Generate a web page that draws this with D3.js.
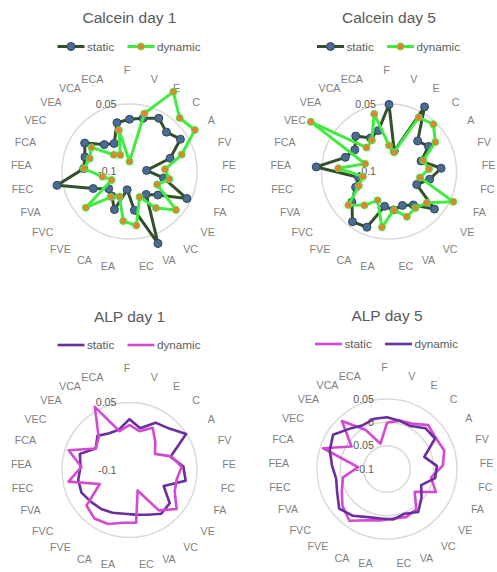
<!DOCTYPE html>
<html>
<head>
<meta charset="utf-8">
<script src="https://cdn.jsdelivr.net/npm/d3@7"></script>
<style>
  body { margin: 0; background: #fff; }
  text { font-family: "Liberation Sans", Arial, sans-serif; }
</style>
</head>
<body>
<svg id="radar" width="497" height="572"></svg>
<script>
// categories (clockwise from top)
var categories = ["F", "V", "E", "C", "A", "FV", "FE", "FC", "FA", "VE", "VC", "VA", "EC",
  "EA", "CA", "FVE", "FVC", "FVA", "FEC", "FEA", "FCA", "VEC", "VEA", "VCA", "ECA"];

var seriesNames = ["static", "dynamic"];

// Calcein day 1
var calcein1Static  = [0.016, 0.022, 0.035, 0.020, 0.034, -0.005, -0.062, -0.023, 0.041, -0.018, -0.037, 0.072, -0.013,
  -0.059, -0.009, -0.033, -0.040, -0.011, 0.064, 0.002, 0.004, 0.018, -0.018, -0.029, 0.012];
var calcein1Dynamic = [-0.078, 0.033, 0.102, 0.063, 0.072, 0.022, -0.021, -0.010, -0.032, 0.034, 0.000, -0.039, 0.021,
  0.011, -0.040, -0.030, 0.026, -0.056, -0.039, 0.002, -0.007, 0.000, -0.049, -0.058, -0.005];

// Calcein day 5
var calcein5Static  = [0.049, -0.053, 0.064, -0.007, 0.004, -0.025, 0.016, -0.008, -0.032, 0.031, -0.008, -0.019, -0.014,
  -0.022, 0.033, 0.038, 0.007, -0.018, -0.031, 0.062, 0.002, -0.010, 0.008, -0.015, -0.006];
var calcein5Dynamic = [-0.042, -0.056, 0.037, 0.044, 0.022, -0.020, -0.011, -0.030, 0.058, 0.009, 0.000, 0.008, -0.014,
  0.025, -0.031, -0.007, 0.017, -0.026, -0.041, 0.013, -0.044, 0.106, -0.027, -0.021, 0.032];

// ALP day 1
var alp1Static  = [0.013, -0.004, 0.020, 0.027, 0.049, -0.004, 0.020, 0.027, -0.016, 0.016, 0.020, 0.007, 0.000,
  -0.002, 0.002, 0.007, 0.011, 0.018, 0.016, 0.009, 0.016, -0.011, 0.004, -0.007, -0.007];
var alp1Dynamic = [0.000, -0.011, 0.007, -0.016, -0.033, -0.002, 0.016, 0.007, 0.011, 0.036, 0.011, -0.051, 0.018,
  0.018, 0.029, 0.033, 0.024, -0.027, 0.038, 0.007, 0.042, -0.011, 0.000, 0.060, -0.011];

// ALP day 5
var alp5Static  = [-0.001, 0.007, 0.011, 0.029, 0.024, 0.029, 0.020, -0.004, 0.016, -0.023, 0.007, 0.011, 0.007,
  0.011, 0.018, 0.037, 0.024, 0.007, -0.004, -0.038, 0.044, -0.010, 0.041, -0.004, -0.044];
var alp5Dynamic = [0.011, 0.007, 0.005, 0.020, 0.022, -0.016, 0.007, 0.005, -0.019, -0.004, 0.014, 0.003, 0.009,
  0.007, 0.011, 0.024, 0.033, 0.018, 0.011, 0.018, 0.029, 0.037, 0.018, 0.007, 0.011];

// radial axis ticks
var ticksCoarse = [-0.1, 0.05];
var ticksFine = [-0.1, -0.05, 0, 0.05];

var svg = d3.select("#radar");

var charts = [
  {title: "Calcein day 1", cx: 129.5, cy: 171.5, r05: 67.5, ticks: ticksCoarse,
    series: [calcein1Static, calcein1Dynamic], colors: ["#34502a", "#3fec3f"], width: 3, markers: true},
  {title: "Calcein day 5", cx: 389, cy: 171.5, r05: 67.5, ticks: ticksCoarse,
    series: [calcein5Static, calcein5Dynamic], colors: ["#34502a", "#3fec3f"], width: 3, markers: true},
  {title: "ALP day 1", cx: 129.5, cy: 470, r05: 67.5, ticks: ticksCoarse,
    series: [alp1Static, alp1Dynamic], colors: ["#6a2d9f", "#d448d4"], width: 2.6, markers: false},
  {title: "ALP day 5", cx: 387, cy: 469, r05: 70, ticks: ticksFine,
    series: [alp5Static, alp5Dynamic], colors: ["#d448d4", "#6a2d9f"], width: 2.6, markers: false}
];

var markerFill = ["#4b6c91", "#e8802f"];
var markerStroke = ["#2f4660", "#3fec3f"];

// angle of each category
var angle = d3.scaleLinear().domain([0, categories.length]).range([0, 2 * Math.PI]);

charts.forEach(function(c) {
  var g = svg.append("g").attr("transform", "translate(" + c.cx + "," + c.cy + ")");

  var rScale = d3.scaleLinear().domain([-0.1, 0.05]).range([0, c.r05]);

  // title
  g.append("text")
    .attr("x", 0)
    .attr("y", -148.5)
    .attr("text-anchor", "middle")
    .attr("font-size", "15.5px")
    .attr("fill", "#595959")
    .text(c.title);

  // legend
  var legX = [-72, -2];
  seriesNames.forEach(function(name, i) {
    var lg = g.append("g").attr("transform", "translate(" + legX[i] + "," + (-125) + ")");
    lg.append("line")
      .attr("x1", 0).attr("x2", 27)
      .attr("stroke", c.colors[i])
      .attr("stroke-width", c.width);
    if (c.markers) {
      lg.append("circle")
        .attr("cx", 13.5).attr("r", i == 0 ? 4 : 3.5)
        .attr("fill", markerFill[i])
        .attr("stroke", markerStroke[i])
        .attr("stroke-width", 1);
    }
    lg.append("text")
      .attr("x", 29.5)
      .attr("dy", "0.35em")
      .attr("font-size", "11.7px")
      .attr("fill", "#595959")
      .text(name);
  });

  // gridline circles
  g.selectAll(".ring")
    .data(c.ticks.filter(function(t) { return t > -0.1; }))
    .enter().append("circle")
    .attr("class", "ring")
    .attr("r", function(t) { return rScale(t); })
    .attr("fill", "none")
    .attr("stroke", "#d9d9d9")
    .attr("stroke-width", 1.5);

  // tick labels
  g.selectAll(".tick")
    .data(c.ticks)
    .enter().append("text")
    .attr("class", "tick")
    .attr("x", -13)
    .attr("y", function(t) { return -rScale(t); })
    .attr("dy", "0.35em")
    .attr("text-anchor", "end")
    .attr("font-size", "10.7px")
    .attr("fill", "#595959")
    .text(function(t) { return String(t); });

  // category labels, anchored on the side they sit
  var labelR = 95.5;
  categories.forEach(function(cat, i) {
    var a = angle(i);
    var s = Math.sin(a), co = Math.cos(a);
    var anchor = Math.abs(s) < 0.05 ? "middle" : (s > 0 ? "start" : "end");
    g.append("text")
      .attr("x", labelR * s - 2.5)
      .attr("y", -labelR * co - (anchor == "middle" ? co * 6 : 0))
      .attr("font-size", "10.7px")
      .attr("fill", "#7f7f7f")
      .attr("text-anchor", anchor)
      .attr("dy", "0.35em")
      .text(cat);
  });

  // series
  var line = d3.lineRadial()
    .angle(function(d, i) { return angle(i); })
    .radius(function(d) { return rScale(d); })
    .curve(d3.curveLinearClosed);

  c.series.forEach(function(vals, i) {
    g.append("path")
      .datum(vals)
      .attr("d", line)
      .attr("fill", "none")
      .attr("stroke", c.colors[i])
      .attr("stroke-width", c.width)
      .attr("stroke-linejoin", "round");
    if (c.markers) {
      g.selectAll(".m" + i)
        .data(vals)
        .enter().append("circle")
        .attr("class", "m" + i)
        .attr("cx", function(d, j) { return rScale(d) * Math.sin(angle(j)); })
        .attr("cy", function(d, j) { return -rScale(d) * Math.cos(angle(j)); })
        .attr("r", i == 0 ? 4 : 3.5)
        .attr("fill", markerFill[i])
        .attr("stroke", markerStroke[i])
        .attr("stroke-width", 1);
    }
  });
});
</script>
</body>
</html>
